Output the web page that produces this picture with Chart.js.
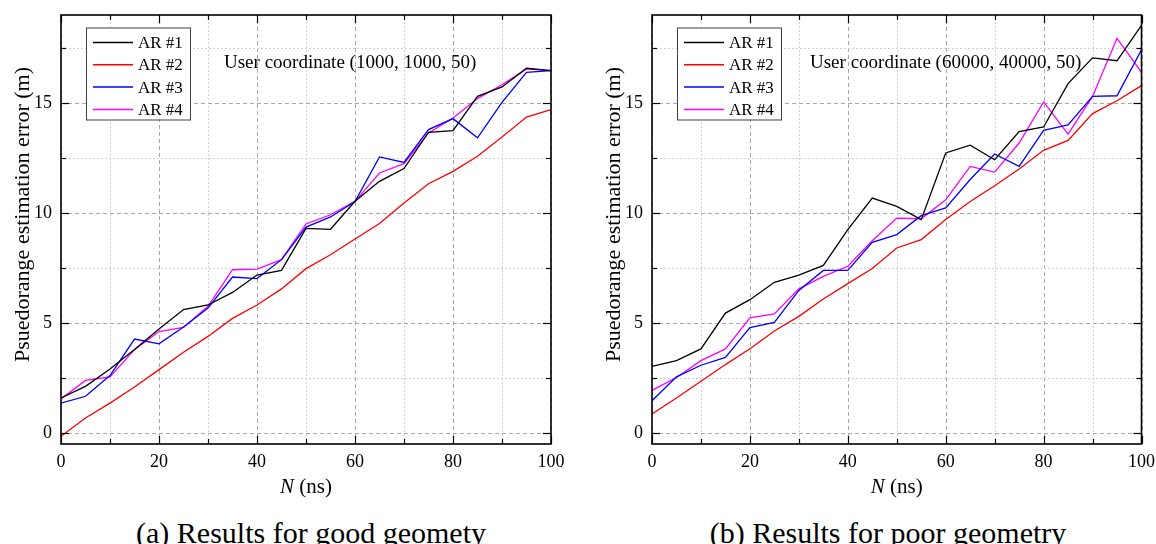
<!DOCTYPE html>
<html><head><meta charset="utf-8">
<script src="https://cdn.jsdelivr.net/npm/chart.js@4.4.1/dist/chart.umd.min.js"></script>
<style>
html,body{margin:0;padding:0;background:#fff}
body{width:1156px;height:544px;position:relative;overflow:hidden}
canvas{position:absolute;top:0}
#c1{left:0}
#c2{left:578px}
.cap{position:absolute;font-family:"Liberation Serif","Times New Roman",serif;font-size:30px;line-height:30px;white-space:nowrap;color:#000;top:518px;transform:translateX(-50%)}
</style></head><body>
<canvas id="c1" width="578" height="505"></canvas>
<canvas id="c2" width="578" height="505"></canvas>
<div class="cap" style="left:311px">(a) Results for good geomety</div>
<div class="cap" style="left:888px">(b) Results for poor geometry</div>
<script>
// ---- data ----
const nValues = [0,5,10,15,20,25,30,35,40,45,50,55,60,65,70,75,80,85,90,95,100];
const seriesNames = ['AR #1','AR #2','AR #3','AR #4'];

const goodAR1 = [1.59,2.12,2.91,3.79,4.73,5.61,5.82,6.39,7.18,7.39,9.30,9.26,10.53,11.44,12.02,13.67,13.74,15.30,15.73,16.58,16.47];
const goodAR2 = [-0.15,0.68,1.36,2.09,2.88,3.67,4.39,5.21,5.82,6.55,7.47,8.10,8.82,9.52,10.45,11.33,11.89,12.58,13.45,14.36,14.70];
const goodAR3 = [1.36,1.67,2.61,4.27,4.05,4.82,5.68,7.09,7.02,7.88,9.36,9.82,10.52,12.55,12.30,13.79,14.29,13.42,15.03,16.39,16.47];
const goodAR4 = [1.55,2.39,2.55,3.79,4.61,4.80,5.76,7.42,7.45,7.88,9.50,9.92,10.53,11.82,12.24,13.64,14.32,15.20,15.83,16.55,16.47];

const poorAR1 = [3.03,3.29,3.82,5.45,6.06,6.85,7.18,7.62,9.24,10.68,10.30,9.70,12.73,13.08,12.42,13.70,13.91,15.88,17.05,16.92,18.53];
const poorAR2 = [0.86,1.59,2.35,3.11,3.83,4.64,5.30,6.09,6.79,7.48,8.41,8.79,9.70,10.52,11.24,12.00,12.85,13.30,14.52,15.10,15.79];
const poorAR3 = [1.47,2.55,3.08,3.44,4.79,5.03,6.48,7.39,7.39,8.67,9.02,9.88,10.23,11.52,12.68,12.12,13.76,14.00,15.30,15.33,17.42];
const poorAR4 = [1.94,2.52,3.29,3.82,5.23,5.41,6.55,7.12,7.58,8.74,9.77,9.74,10.60,12.12,11.86,13.18,15.05,13.59,15.30,17.94,16.39];

const xTickValues = [0,10,20,30,40,50,60,70,80,90,100];
const xLabelValues = [0,20,40,60,80,100];
const yTickValues = [0,2.5,5,7.5,10,12.5,15,17.5];
const yLabelValues = [0,5,10,15];

const goodNote = 'User coordinate (1000, 1000, 50)';
const poorNote = 'User coordinate (60000, 40000, 50)';
const xTitleItalic = 'N';
const xTitleRest = ' (ns)';
const yTitle = 'Psuedorange estimation error (m)';

// ---- drawing ----
const FONT = '"Liberation Serif", "Times New Roman", serif';
const LINE_COLORS = ['#000000', '#ff0000', '#0000ff', '#ff00ff'];

const decor = {
  id: 'decor',
  beforeDatasetsDraw(chart) {
    const {ctx, chartArea: a, scales: {x, y}} = chart;
    ctx.save();
    ctx.lineWidth = 1;
    xTickValues.forEach(v => {
      const major = xLabelValues.includes(v);
      ctx.strokeStyle = major ? '#a8a8a8' : '#d2d2d2';
      ctx.setLineDash(major ? [4, 3] : [2, 2]);
      const px = Math.round(x.getPixelForValue(v)) + 0.5;
      ctx.beginPath(); ctx.moveTo(px, a.bottom); ctx.lineTo(px, a.top); ctx.stroke();
    });
    yTickValues.forEach(v => {
      const major = yLabelValues.includes(v);
      ctx.strokeStyle = major ? '#a8a8a8' : '#d2d2d2';
      ctx.setLineDash(major ? [4, 3] : [2, 2]);
      const py = Math.round(y.getPixelForValue(v)) + 0.5;
      ctx.beginPath(); ctx.moveTo(a.left, py); ctx.lineTo(a.right, py); ctx.stroke();
    });
    ctx.restore();
  },
  afterDatasetsDraw(chart, args, opts) {
    const {ctx, chartArea: a, scales: {x, y}} = chart;
    ctx.save();
    ctx.setLineDash([]);
    ctx.strokeStyle = '#000';
    ctx.lineWidth = 1.2;
    const seg = (x1, y1, x2, y2) => { ctx.beginPath(); ctx.moveTo(x1, y1); ctx.lineTo(x2, y2); ctx.stroke(); };
    xTickValues.forEach(v => {
      const px = Math.round(x.getPixelForValue(v)) + 0.5;
      const len = xLabelValues.includes(v) ? 8 : 5;
      seg(px, a.bottom, px, a.bottom - len);
      seg(px, a.top, px, a.top + len);
    });
    yTickValues.forEach(v => {
      const py = Math.round(y.getPixelForValue(v)) + 0.5;
      const len = yLabelValues.includes(v) ? 8 : 5;
      seg(a.left, py, a.left + len, py);
      seg(a.right, py, a.right - len, py);
    });
    ctx.lineWidth = 1.6;
    ctx.strokeRect(a.left, a.top, a.right - a.left, a.bottom - a.top);

    // legend box
    const bx = a.left + 25, by = a.top + 12.5, bw = 104, bh = 92;
    ctx.fillStyle = '#fff';
    ctx.fillRect(bx, by, bw, bh);
    ctx.lineWidth = 1;
    ctx.strokeStyle = '#404040';
    ctx.strokeRect(bx + 0.5, by + 0.5, bw, bh);
    ctx.font = `17px ${FONT}`;
    ctx.textBaseline = 'middle';
    ctx.textAlign = 'left';
    chart.data.datasets.forEach((ds, i) => {
      const cy = by + 15 + 22.3 * i;
      ctx.strokeStyle = ds.borderColor;
      ctx.lineWidth = 1.5;
      seg(bx + 7, cy, bx + 47, cy);
      ctx.fillStyle = '#000';
      ctx.fillText(ds.label, bx + 52, cy + 1);
    });

    // annotation
    ctx.font = `19px ${FONT}`;
    ctx.textBaseline = 'alphabetic';
    ctx.fillStyle = '#000';
    ctx.fillText(opts.note, a.left + opts.noteDx, a.top + 53);

    // x title
    const cx = (a.left + a.right) / 2;
    ctx.font = `italic 21px ${FONT}`;
    const w1 = ctx.measureText(xTitleItalic).width;
    ctx.font = `21px ${FONT}`;
    const w2 = ctx.measureText(xTitleRest).width;
    const sx = cx - (w1 + w2) / 2;
    ctx.font = `italic 21px ${FONT}`;
    ctx.fillText(xTitleItalic, sx, 493);
    ctx.font = `21px ${FONT}`;
    ctx.fillText(xTitleRest, sx + w1, 493);

    // y title
    ctx.save();
    ctx.translate(a.left - 32, 214.5);
    ctx.rotate(-Math.PI / 2);
    ctx.font = `22px ${FONT}`;
    ctx.textAlign = 'center';
    ctx.fillText(yTitle, 0, 0);
    ctx.restore();
    ctx.restore();
  }
};

function buildChart(id, series, yAxisWidth, rightPad, note, noteDx) {
  return new Chart(document.getElementById(id), {
    type: 'line',
    data: {
      datasets: series.map((vals, i) => ({
        label: seriesNames[i],
        data: nValues.map((n, j) => ({x: n, y: vals[j]})),
        borderColor: LINE_COLORS[i],
        borderWidth: 1.3,
        pointRadius: 0,
        fill: false,
        tension: 0
      }))
    },
    options: {
      responsive: false,
      animation: false,
      devicePixelRatio: 1,
      layout: {padding: {top: 15, right: rightPad, bottom: 0, left: 0}},
      plugins: {
        legend: {display: false},
        tooltip: {enabled: false},
        decor: {note: note, noteDx: noteDx}
      },
      scales: {
        x: {
          type: 'linear', min: 0, max: 100,
          afterBuildTicks: s => { s.ticks = xTickValues.map(v => ({value: v})); },
          afterFit: s => { s.height = 61; s.paddingLeft = 0; s.paddingRight = 0; },
          ticks: {
            autoSkip: false, maxRotation: 0, padding: 7, color: '#000',
            font: {family: FONT, size: 18},
            callback: v => xLabelValues.includes(v) ? String(v) : ''
          },
          grid: {display: false, drawTicks: false},
          border: {display: false}
        },
        y: {
          type: 'linear', min: -0.5, max: 19,
          afterBuildTicks: s => { s.ticks = yTickValues.map(v => ({value: v})); },
          afterFit: s => { s.width = yAxisWidth; s.paddingTop = 0; s.paddingBottom = 0; },
          ticks: {
            autoSkip: false, padding: 9, color: '#000',
            font: {family: FONT, size: 18},
            callback: v => yLabelValues.includes(v) ? String(v) : ''
          },
          grid: {display: false, drawTicks: false},
          border: {display: false}
        }
      }
    },
    plugins: [decor]
  });
}

buildChart('c1', [goodAR1, goodAR2, goodAR3, goodAR4], 61, 27, goodNote, 163);
buildChart('c2', [poorAR1, poorAR2, poorAR3, poorAR4], 74, 14.5, poorNote, 158);
</script>
</body></html>
